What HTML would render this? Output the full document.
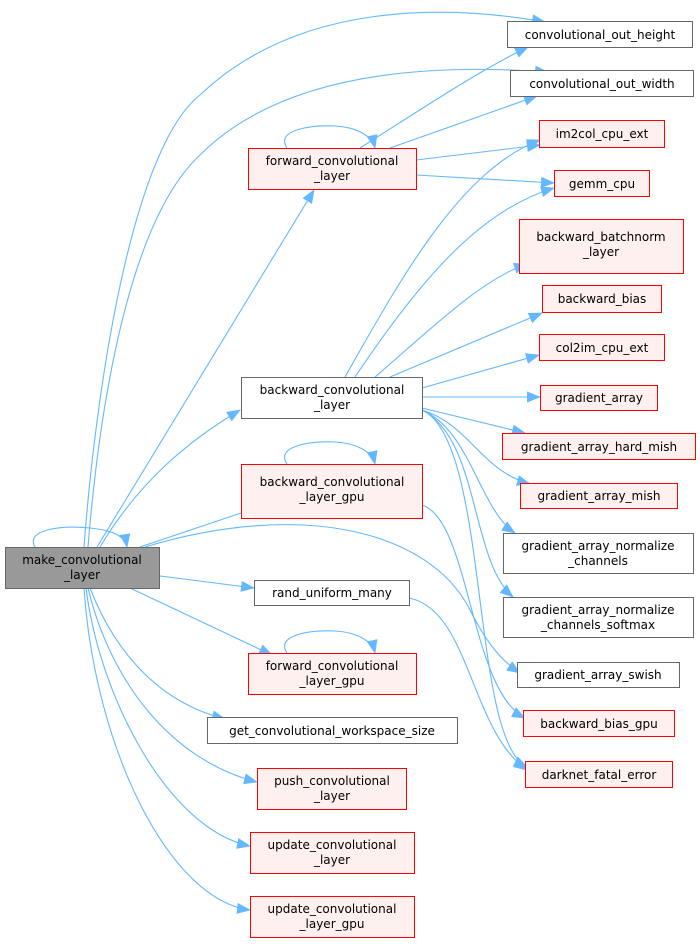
<!DOCTYPE html>
<html><head><meta charset="utf-8"><style>
body{margin:0;background:#fff;width:700px;height:943px;overflow:hidden}
svg text{font-family:"DejaVu Sans","Liberation Sans",sans-serif;font-size:12px;fill:#000}
</style></head><body>
<svg width="700" height="943" viewBox="0 0 700 943" xmlns="http://www.w3.org/2000/svg">
<defs><marker id="a" markerWidth="14" markerHeight="11" refX="13" refY="5.5" orient="auto" markerUnits="userSpaceOnUse"><path d="M0,0 L14,5.5 L0,11z" fill="#63b8ff"/></marker></defs>
<g fill="none" stroke="#63b8ff" stroke-width="1.1" marker-end="url(#a)">
<path d="M35,547 C25,530 60,525 90,528 C110,530 125,535 127,547"/>
<path d="M84,547 C95,400 130,150 200,95 C300,0 450,5 545,22"/>
<path d="M88,547 C100,400 130,220 200,155 C290,65 450,65 548,72"/>
<path d="M97,547 L314,190"/>
<path d="M100,547 C140,480 190,440 240,410"/>
<path d="M140,547 L262,506"/>
<path d="M145,547 C300,500 430,530 470,610 C485,640 500,660 520,673"/>
<path d="M160,576 L254,588"/>
<path d="M130,588 L272,655"/>
<path d="M90,588 C110,640 150,700 225,719"/>
<path d="M88,588 C110,680 170,760 257,782"/>
<path d="M86,588 C100,700 170,830 250,846"/>
<path d="M84,588 C95,750 170,900 250,910"/>
<path d="M287,148 C275,130 310,125 335,126 C355,127 372,135 375,148"/>
<path d="M360,148 C420,110 480,70 528,47"/>
<path d="M390,148 L537,96"/>
<path d="M416,160 L540,145"/>
<path d="M416,175 L554,183"/>
<path d="M345,377 C400,280 460,170 540,140"/>
<path d="M355,377 C420,280 480,210 554,188"/>
<path d="M375,377 C430,330 480,280 527,264"/>
<path d="M390,377 L542,313"/>
<path d="M422,388 L539,355"/>
<path d="M422,397 L540,397"/>
<path d="M422,408 L525,433"/>
<path d="M422,410 C470,425 480,470 530,484"/>
<path d="M422,410 C470,430 480,510 515,533"/>
<path d="M422,410 C480,440 470,560 513,597"/>
<path d="M422,410 C490,440 470,740 527,767"/>
<path d="M287,464 C275,446 310,441 335,442 C355,443 372,451 375,464"/>
<path d="M422,505 C470,520 470,690 525,718"/>
<path d="M409,598 C470,610 470,730 527,770"/>
<path d="M287,653 C275,635 310,630 335,631 C355,632 372,640 375,653"/>
</g>
<g stroke-width="1">
<rect x="5.5" y="547.5" width="154" height="41" fill="#999999" stroke="#666666"/>
<rect x="507.5" y="21.5" width="185" height="26" fill="#fff" stroke="#666666"/>
<rect x="510.5" y="70.5" width="183" height="26" fill="#fff" stroke="#666666"/>
<rect x="539.5" y="120.5" width="125" height="27" fill="#fff0f0" stroke="#ff0000"/>
<rect x="554.5" y="170.5" width="95" height="26" fill="#fff0f0" stroke="#ff0000"/>
<rect x="519.5" y="219.5" width="164" height="54" fill="#fff0f0" stroke="#ff0000"/>
<rect x="542.5" y="285.5" width="119" height="27" fill="#fff0f0" stroke="#ff0000"/>
<rect x="539.5" y="334.5" width="125" height="26" fill="#fff0f0" stroke="#ff0000"/>
<rect x="540.5" y="385.5" width="117" height="25" fill="#fff0f0" stroke="#ff0000"/>
<rect x="502.5" y="433.5" width="193" height="26" fill="#fff0f0" stroke="#ff0000"/>
<rect x="520.5" y="483.5" width="157" height="25" fill="#fff0f0" stroke="#ff0000"/>
<rect x="503.5" y="533.5" width="190" height="40" fill="#fff" stroke="#666666"/>
<rect x="503.5" y="597.5" width="190" height="40" fill="#fff" stroke="#666666"/>
<rect x="517.5" y="662.5" width="162" height="25" fill="#fff" stroke="#666666"/>
<rect x="523.5" y="710.5" width="151" height="26" fill="#fff0f0" stroke="#ff0000"/>
<rect x="525.5" y="761.5" width="147" height="26" fill="#fff0f0" stroke="#ff0000"/>
<rect x="248.5" y="148.5" width="168" height="41" fill="#fff0f0" stroke="#ff0000"/>
<rect x="241.5" y="377.5" width="181" height="41" fill="#fff" stroke="#666666"/>
<rect x="241.5" y="464.5" width="181" height="54" fill="#fff0f0" stroke="#ff0000"/>
<rect x="254.5" y="580.5" width="155" height="25" fill="#fff" stroke="#666666"/>
<rect x="248.5" y="653.5" width="168" height="41" fill="#fff0f0" stroke="#ff0000"/>
<rect x="207.5" y="717.5" width="250" height="26" fill="#fff" stroke="#666666"/>
<rect x="257.5" y="768.5" width="149" height="41" fill="#fff0f0" stroke="#ff0000"/>
<rect x="250.5" y="832.5" width="164" height="41" fill="#fff0f0" stroke="#ff0000"/>
<rect x="250.5" y="896.5" width="164" height="41" fill="#fff0f0" stroke="#ff0000"/>
</g>
<g text-anchor="middle">
<text x="82" y="564">make_convolutional</text><text x="82" y="579">_layer</text>
<text x="600" y="39">convolutional_out_height</text>
<text x="602" y="88">convolutional_out_width</text>
<text x="602" y="138">im2col_cpu_ext</text>
<text x="602" y="188">gemm_cpu</text>
<text x="601" y="241">backward_batchnorm</text><text x="601" y="256">_layer</text>
<text x="602" y="303">backward_bias</text>
<text x="602" y="352">col2im_cpu_ext</text>
<text x="599" y="402">gradient_array</text>
<text x="599" y="451">gradient_array_hard_mish</text>
<text x="599" y="500">gradient_array_mish</text>
<text x="598" y="550">gradient_array_normalize</text><text x="598" y="565">_channels</text>
<text x="598" y="614">gradient_array_normalize</text><text x="598" y="629">_channels_softmax</text>
<text x="598" y="679">gradient_array_swish</text>
<text x="599" y="728">backward_bias_gpu</text>
<text x="599" y="779">darknet_fatal_error</text>
<text x="332" y="165">forward_convolutional</text><text x="332" y="180">_layer</text>
<text x="332" y="394">backward_convolutional</text><text x="332" y="409">_layer</text>
<text x="332" y="486">backward_convolutional</text><text x="332" y="501">_layer_gpu</text>
<text x="332" y="597">rand_uniform_many</text>
<text x="332" y="670">forward_convolutional</text><text x="332" y="685">_layer_gpu</text>
<text x="332" y="735">get_convolutional_workspace_size</text>
<text x="332" y="785">push_convolutional</text><text x="332" y="800">_layer</text>
<text x="332" y="849">update_convolutional</text><text x="332" y="864">_layer</text>
<text x="332" y="913">update_convolutional</text><text x="332" y="928">_layer_gpu</text>
</g>
</svg>
</body></html>
